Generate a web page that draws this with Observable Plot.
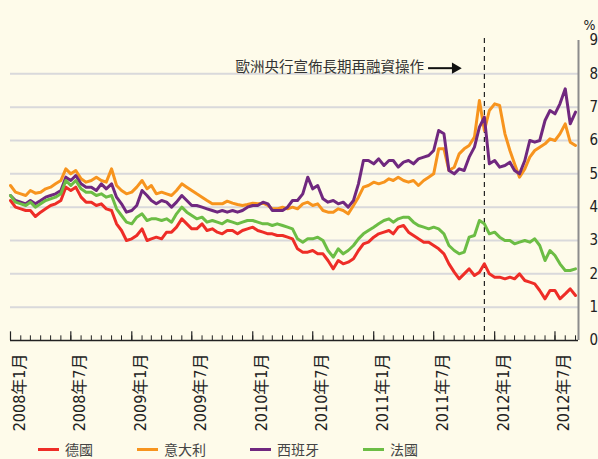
<!DOCTYPE html>
<html><head><meta charset="utf-8">
<script src="https://cdn.jsdelivr.net/npm/d3@7"></script>
<script src="https://cdn.jsdelivr.net/npm/@observablehq/plot@0.6"></script>
<style>
html,body{margin:0;padding:0;background:#FEFBEA;}
#chart{position:relative;width:598px;height:459px;background:#FEFBEA;overflow:hidden;}
#legend{position:absolute;left:38px;top:439px;height:20px;display:flex;align-items:center;gap:44px;
  font-family:"Noto Sans CJK TC","Noto Sans CJK SC",sans-serif;font-size:14px;color:#444;}
#legend .item{display:flex;align-items:center;}
#legend .sw{width:21px;height:3px;margin-right:6px;}
</style></head>
<body><div id="chart"></div>
<script>
const countries = ["德國", "意大利", "西班牙", "法國"];
const colors = ["#EE2D27", "#F7941E", "#70287F", "#6CBD45"];

// semi-monthly readings (1st and 16th of each month), Jan 2008 – Sep 2012
const germany = [4.2,4.0,3.95,3.9,3.9,3.72,3.85,3.95,4.05,4.1,
4.2,4.6,4.5,4.6,4.3,4.15,4.15,4.05,4.1,3.95,
3.9,3.5,3.3,3.0,3.05,3.15,3.35,3.0,3.05,3.1,
3.05,3.25,3.25,3.4,3.65,3.5,3.35,3.35,3.5,3.3,
3.35,3.25,3.2,3.3,3.3,3.2,3.3,3.35,3.4,3.3,
3.25,3.2,3.2,3.15,3.15,3.1,3.05,2.75,2.65,2.65,
2.7,2.6,2.6,2.4,2.15,2.4,2.3,2.35,2.45,2.7,
2.9,2.95,3.1,3.2,3.25,3.3,3.2,3.4,3.45,3.25,
3.15,3.05,2.95,2.95,2.85,2.75,2.6,2.3,2.05,1.85,
2.0,2.15,1.95,2.05,2.3,2.0,1.9,1.9,1.85,1.9,
1.85,2.0,1.8,1.75,1.7,1.5,1.25,1.5,1.5,1.25,
1.4,1.55,1.35];
const italy = [4.65,4.45,4.4,4.35,4.5,4.42,4.45,4.55,4.6,4.7,
4.8,5.15,5.0,5.1,4.85,4.75,4.8,4.9,4.8,4.75,
5.15,4.65,4.5,4.4,4.45,4.6,4.8,4.55,4.65,4.4,
4.45,4.4,4.35,4.5,4.7,4.6,4.5,4.4,4.3,4.2,
4.1,4.1,4.1,4.18,4.12,4.08,4.05,4.08,4.12,4.1,
4.12,4.05,3.95,3.95,4.0,3.95,4.0,3.95,4.1,4.15,
4.05,4.1,3.9,3.85,3.85,3.95,3.9,3.8,4.05,4.3,
4.6,4.65,4.75,4.7,4.75,4.85,4.8,4.9,4.8,4.75,
4.8,4.65,4.8,4.9,5.0,5.75,5.75,5.1,5.2,5.6,
5.75,5.85,6.1,7.2,6.3,6.9,7.1,7.05,6.2,5.7,
5.3,4.9,5.15,5.5,5.7,5.8,5.9,6.05,6.0,6.2,
6.5,5.95,5.85];
const spain = [4.35,4.2,4.15,4.1,4.2,4.1,4.2,4.3,4.35,4.4,
4.5,4.9,4.8,4.95,4.7,4.6,4.6,4.5,4.7,4.55,
4.7,4.3,4.1,3.85,3.9,4.05,4.5,4.35,4.2,4.1,
4.2,4.15,4.0,4.15,4.35,4.2,4.05,4.05,4.0,3.95,
3.9,3.85,3.9,3.85,3.9,3.85,3.9,4.0,4.05,4.05,
4.15,4.1,3.9,3.9,3.9,4.0,4.2,4.2,4.4,4.9,
4.55,4.65,4.25,4.15,4.2,4.1,4.15,4.0,4.2,4.7,
5.4,5.4,5.3,5.45,5.25,5.4,5.4,5.2,5.35,5.4,
5.3,5.45,5.5,5.55,5.7,6.3,6.2,5.1,5.0,5.15,
5.1,5.5,5.8,6.4,6.7,5.3,5.4,5.2,5.25,5.35,
5.1,5.0,5.4,6.0,5.95,6.0,6.6,6.9,6.8,7.1,
7.55,6.5,6.85];
const france = [4.35,4.15,4.1,4.05,4.15,4.0,4.1,4.2,4.25,4.3,
4.4,4.8,4.65,4.8,4.55,4.45,4.45,4.35,4.4,4.3,
4.35,3.95,3.75,3.55,3.5,3.7,3.8,3.6,3.65,3.65,
3.6,3.65,3.55,3.8,4.0,3.85,3.75,3.65,3.7,3.55,
3.6,3.55,3.5,3.6,3.55,3.5,3.55,3.6,3.6,3.55,
3.5,3.5,3.45,3.5,3.45,3.4,3.35,3.05,2.95,3.05,
3.05,3.1,3.0,2.7,2.5,2.75,2.6,2.7,2.85,3.05,
3.2,3.3,3.4,3.5,3.6,3.65,3.55,3.65,3.7,3.7,
3.55,3.45,3.4,3.35,3.4,3.35,3.2,2.85,2.7,2.6,
2.65,3.1,3.15,3.6,3.5,3.2,3.25,3.1,3.0,3.0,
2.9,2.95,3.0,2.95,3.05,2.85,2.4,2.7,2.55,2.3,
2.1,2.1,2.15];

const yTicks = [0,1,2,3,4,5,6,7,8,9];
const gridValues = [1,2,3,4,5,6,7,8];
const xTickLabels = ["2008年1月","2008年7月","2009年1月","2009年7月","2010年1月","2010年7月","2011年1月","2011年7月","2012年1月","2012年7月"];
const xTickDates = ["2008-01-01","2008-07-01","2009-01-01","2009-07-01","2010-01-01","2010-07-01","2011-01-01","2011-07-01","2012-01-01","2012-07-01"];
const annotationText = "歐洲央行宣佈長期再融資操作";
const ltroDate = "2011-12-01";
const arrowStart = "2011-06-14", arrowEnd = "2011-08-28", arrowHead = "2011-09-04", arrowLevel = 8.17;
const unitLabel = "%";

const parse = d3.utcParse("%Y-%m-%d");
const xStart = parse("2008-01-01"), xEnd = parse("2012-09-10");
const start = parse("2008-01-01");
const dates = d3.range(germany.length).map(i => d3.utcDay.offset(d3.utcMonth.offset(start, Math.floor(i / 2)), (i % 2) * 15));
const seriesValues = [germany, italy, spain, france];
const rows = seriesValues.map((vals, s) => vals.map((v, i) => ({date: dates[i], value: v, country: countries[s]})));
const months = d3.utcMonth.range(parse("2008-01-01"), parse("2012-09-02"));
const majorTicks = xTickDates.map(parse);
const labelRows = xTickLabels.map((t, i) => ({date: majorTicks[i], text: t}));

const narrow = "'Liberation Sans Narrow','DejaVu Sans Condensed','Liberation Sans','Noto Sans CJK TC',sans-serif";

const chart = Plot.plot({
  width: 598, height: 438,
  marginLeft: 10, marginRight: 20, marginTop: 40, marginBottom: 98,
  x: {type: "utc", domain: [xStart, xEnd], axis: null},
  y: {domain: [0, 9], axis: null},
  style: {background: "transparent", overflow: "visible", fontFamily: narrow},
  marks: [
    Plot.ruleY(gridValues, {stroke: "#D9D9DB", strokeWidth: 2}),
    Plot.ruleX(months, {x: d => d, y1: 0, y2: 0.14, stroke: "#222", strokeWidth: 1}),
    Plot.ruleX(majorTicks, {x: d => d, y1: 0, y2: 0.26, stroke: "#222", strokeWidth: 1.2}),
    Plot.ruleY([0], {stroke: "#222", strokeWidth: 1.5}),
    Plot.ruleX([xEnd], {x: d => d, y1: 0, y2: 9, stroke: "#8C8C8C", strokeWidth: 2}),
    Plot.ruleX([parse(ltroDate)], {x: d => d, y1: 0, y2: 9.06, stroke: "#222", strokeWidth: 1.2, strokeDasharray: "5,4"}),
    ...rows.map((r, s) => Plot.line(r, {x: "date", y: "value", stroke: colors[s], strokeWidth: 3, strokeLinejoin: "round"})),
    Plot.text(yTicks, {y: d => d, frameAnchor: "right", text: d => String(d), textAnchor: "start", dx: 11, fontSize: 15, fill: "#222"}),
    Plot.text([unitLabel], {frameAnchor: "top-right", text: d => d, textAnchor: "start", dx: 5, dy: -20, fontSize: 14, fill: "#222"}),
    Plot.text(labelRows, {x: "date", y: () => 0, text: "text", rotate: -90, textAnchor: "end", dx: 9, dy: 13, fontSize: 16, fill: "#222"}),
    Plot.link([0], {x1: () => parse(arrowStart), x2: () => parse(arrowEnd), y1: () => arrowLevel, y2: () => arrowLevel, stroke: "#111", strokeWidth: 2}),
    Plot.dot([0], {x: () => parse(arrowHead), y: () => arrowLevel, symbol: "triangle", rotate: 90, r: 4.2, fill: "#111", stroke: "none"}),
    Plot.text([annotationText], {x: () => parse(arrowStart), y: () => arrowLevel, text: d => d, textAnchor: "end", dx: -4, dy: -1, fontSize: 14.5, fill: "#333", fontFamily: "'Noto Sans CJK TC','Noto Sans CJK SC',sans-serif"})
  ]
});
const root = document.getElementById("chart");
root.appendChild(chart);
const legend = document.createElement("div");
legend.id = "legend";
countries.forEach((c, i) => {
  const it = document.createElement("div"); it.className = "item";
  const sw = document.createElement("span"); sw.className = "sw"; sw.style.background = colors[i];
  const tx = document.createElement("span"); tx.textContent = c;
  it.appendChild(sw); it.appendChild(tx); legend.appendChild(it);
});
root.appendChild(legend);
</script>
</body></html>
